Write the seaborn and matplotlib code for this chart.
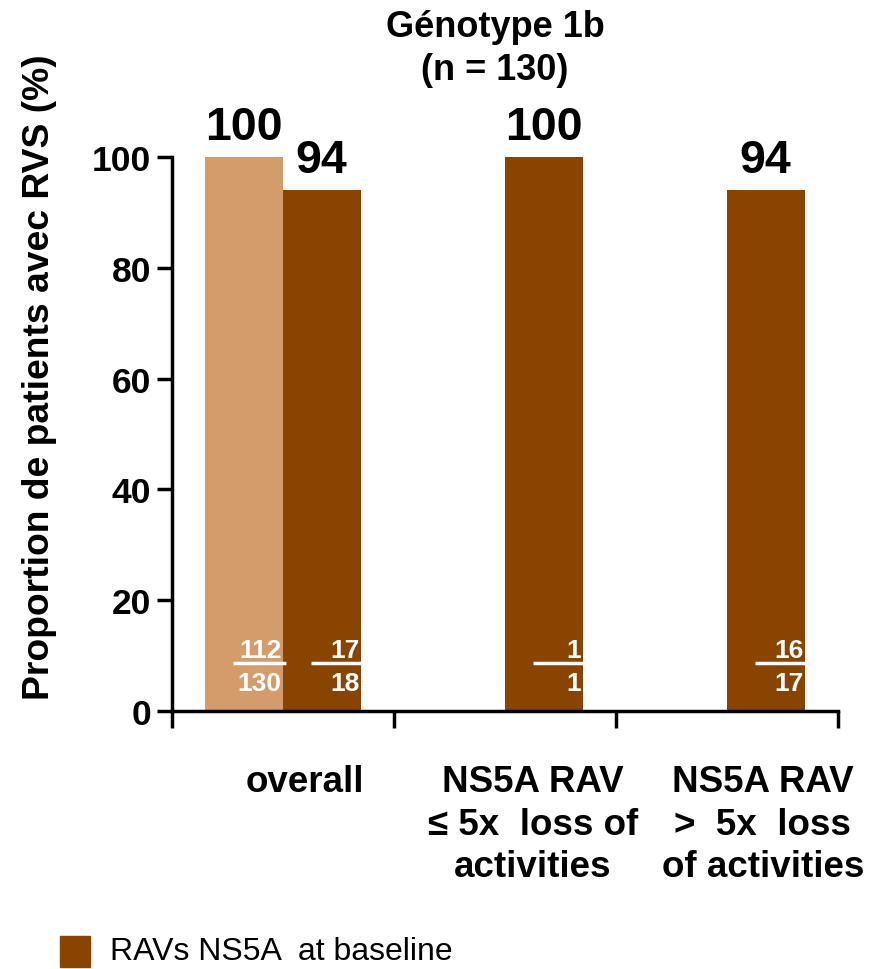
import pandas as pd
import matplotlib.pyplot as plt
import seaborn as sns

# data
categories = ['overall', 'NS5A RAV\n≤ 5x  loss of\nactivities', 'NS5A RAV\n>  5x  loss\nof activities']
groups = ['Tous', 'RAVs NS5A  at baseline']
light_cats = ['overall']
light_pct = [100]
light_frac = [(112, 130)]
dark_cats = categories
dark_pct = [94, 100, 94]
dark_frac = [(17, 18), (1, 1), (16, 17)]

colors = ['#D49B6B', '#884400']

rows = [(c, groups[0], v) for c, v in zip(light_cats, light_pct)]
rows += [(c, groups[1], v) for c, v in zip(dark_cats, dark_pct)]
df = pd.DataFrame(rows, columns=['cat', 'group', 'pct'])

sns.set_style('white')
plt.rcParams['font.family'] = ['Liberation Sans', 'DejaVu Sans']
plt.rcParams['text.color'] = 'black'
plt.rcParams['axes.labelcolor'] = 'black'
plt.rcParams['xtick.color'] = 'black'
plt.rcParams['ytick.color'] = 'black'

fig = plt.figure(figsize=(8.81, 9.70), dpi=100)
ax = fig.add_axes([0.195, 0.266, 0.756, 0.571])

sns.barplot(data=df, x='cat', y='pct', hue='group', order=categories,
            hue_order=groups, palette=colors, width=0.7, errorbar=None,
            saturation=1, linewidth=0, ax=ax, legend=False)

ax.set_ylim(0, 100)
ax.set_xlim(-0.5, 2.5)
ax.set_yticks(range(0, 101, 20))
ax.tick_params(axis='y', labelsize=25.5, width=2.5, length=11, direction='out', left=True, pad=4)
for t in ax.get_yticklabels():
    t.set_fontweight('bold')
ax.set_xticks([-0.5, 0.5, 1.5, 2.5])
ax.set_xticklabels([])
ax.tick_params(axis='x', width=2.5, length=12, direction='out', bottom=True)
sns.despine(ax=ax)
for s in ['left', 'bottom']:
    ax.spines[s].set_linewidth(2.5)
    ax.spines[s].set_color('black')
ax.set_xlabel('')
ax.set_ylabel('Proportion de patients avec RVS (%)', fontsize=26.8, fontweight='bold')
ax.yaxis.set_label_coords(-0.173, 0.604)

# category labels under the axis
label_x = [0.1, 1.126, 2.162]
for x, lab in zip(label_x, categories):
    ax.text(x, -9.6, lab, ha='center', va='top', fontsize=26.5, fontweight='bold',
            linespacing=1.28, clip_on=False)

# value + fraction labels
for cont, fracs in zip(ax.containers, [light_frac, dark_frac]):
    for bar, (num, den) in zip(cont, fracs):
        h = bar.get_height()
        xc = bar.get_x() + bar.get_width() / 2
        xr = bar.get_x() + bar.get_width()
        ax.text(xc, h + 1.5, f'{h:.0f}', ha='center', va='bottom', fontsize=33.5,
                fontweight='bold', clip_on=False)
        ax.text(xr - 0.005, 8.8, str(num), ha='right', va='bottom', color='white',
                fontsize=19, fontweight='bold')
        ax.text(xr - 0.005, 7.25, str(den), ha='right', va='top', color='white',
                fontsize=19, fontweight='bold')
        ax.plot([xr - 0.225, xr + 0.015], [8.7, 8.7], color='white', lw=2.5,
                solid_capstyle='butt')

fig.text(0.562, 0.99, 'Génotype 1b\n(n = 130)', ha='center', va='top', fontsize=26,
         fontweight='bold', linespacing=1.3)

# legend
fig.patches.append(plt.Rectangle((60 / 881, 1 - 968 / 970), 30 / 881, 31 / 970,
                                 transform=fig.transFigure, color=colors[1]))
fig.text(110 / 881, 1 - 952 / 970, groups[1], ha='left', va='center', fontsize=23)

fig.savefig('out.png', dpi=100)
